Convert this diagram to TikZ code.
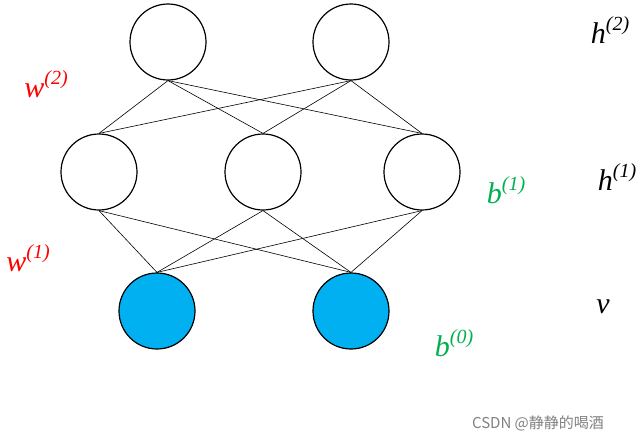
\documentclass[tikz,border=0pt]{standalone}
\usepackage{fontspec}
\setmainfont{Liberation Serif}
\newfontfamily\cjk{Noto Sans CJK SC}
\newcommand{\supx}[1]{\raisebox{0.45em}{\fontsize{20}{20}\selectfont\itshape #1}}
\begin{document}
\begin{tikzpicture}[x=1pt,y=-1pt,
 neuron/.style={circle,draw=black,line width=1.2pt,minimum size=76pt,inner sep=0pt},
 vis/.style={neuron,fill={rgb,255:red,0;green,176;blue,240}},
 edge/.style={black,line width=0.6pt},
 lab/.style={font=\fontsize{30}{30}\selectfont\itshape,inner sep=0pt}]
\useasboundingbox (0,0) rectangle (643,442);
\node[neuron] (t1) at (168,42) {};
\node[neuron] (t2) at (351,42) {};
\node[neuron] (m1) at (99,172) {};
\node[neuron] (m2) at (263,172) {};
\node[neuron] (m3) at (422,172) {};
\node[vis] (b1) at (157,311) {};
\node[vis] (b2) at (351,311) {};
\foreach \t in {t1,t2} \foreach \m in {m1,m2,m3} \draw[edge] (\t.south) -- (\m.north);
\foreach \m in {m1,m2,m3} \foreach \b in {b1,b2} \draw[edge] (\m.south) -- (\b.north);
\node[lab] (lh2) at (610,30) {h\supx{(2)}};
\node[lab] (lh1) at (617,177) {h\supx{(1)}};
\node[lab] (lv) at (603,307) {v};
\node[lab,red] (lw2) at (46,84) {w\supx{(2)}};
\node[lab,red] (lw1) at (28,258) {w\supx{(1)}};
\node[lab,color={rgb,255:red,0;green,176;blue,80}] (lb1) at (506,190) {b\supx{(1)}};
\node[lab,color={rgb,255:red,0;green,176;blue,80}] (lb0) at (454,343) {b\supx{(0)}};
\node[font=\cjk\fontsize{15}{15}\selectfont,text=gray,inner sep=0pt] (wm) at (538,423) {CSDN @静静的喝酒};
\end{tikzpicture}
\end{document}
